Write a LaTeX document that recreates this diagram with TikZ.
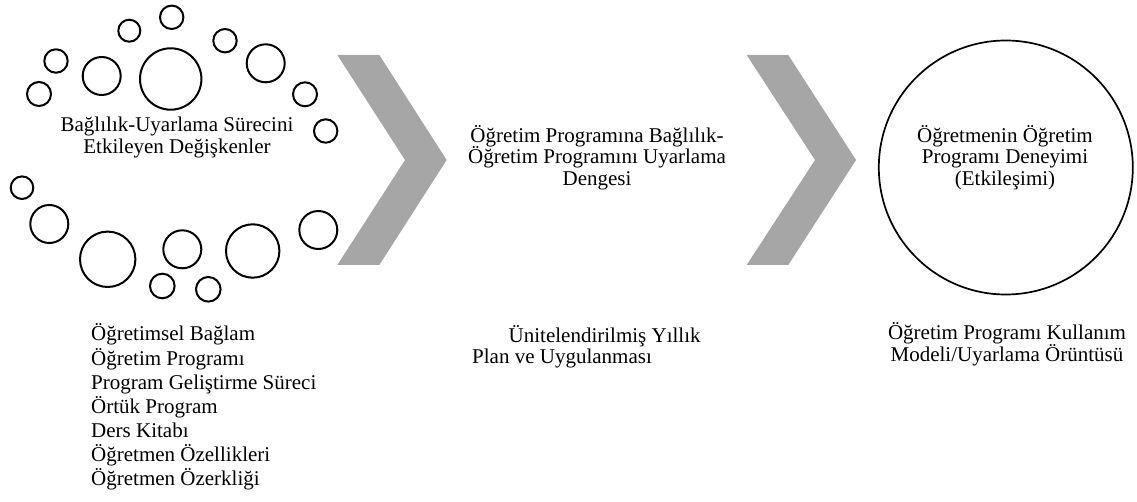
\documentclass[tikz,border=0pt]{standalone}
\usepackage{fontspec}
\setmainfont{Liberation Serif}
\definecolor{chev}{HTML}{A6A6A6}
\begin{document}
\begin{tikzpicture}[x=1pt,y=-1pt,
  bub/.style={draw=black,line width=2pt,circle,inner sep=0pt},
  bigc/.style={draw=black,line width=1.7pt,circle,inner sep=0pt,minimum size=254pt},
  lbl/.style={inner sep=0pt,align=center,font=\fontsize{21}{21.7}\selectfont},
  row/.style={inner sep=0pt,anchor=base west,font=\fontsize{21}{21.7}\selectfont},
  chevron/.style={fill=chev,draw=none}]
\useasboundingbox (0,0) rectangle (1137,502);
% bubbles
\foreach \nm/\cx/\cy/\r in {
  b1/171.7/17.3/11.7, b2/129.3/30.7/11, b3/56/61/11.7, b4/101.7/76/19,
  b5/170.7/79/30.7, b6/225/40.7/11.7, b7/265.7/63.3/19, b8/39/94/12,
  b9/305/94.3/12, b10/325.7/131/11.7, b11/22/187.7/11.3, b12/49.3/224/19,
  b13/107.7/259.3/27.7, b14/182.3/249.3/19, b15/252.7/251/26.7,
  b16/318.3/230/19, b17/162.3/286/12.3, b18/208.3/289.3/12.3}
  \node[bub,minimum size=2*\r] (\nm) at (\cx,\cy) {};
\node[lbl] (vars) at (177,137.5) {Bağlılık-Uyarlama Sürecini\\Etkileyen Değişkenler};
% chevrons
\fill[chevron] (337.3,55) -- (379.3,55) -- (446.7,160) -- (379.3,265) -- (337.3,265) -- (405,160) -- cycle;
\fill[chevron] (746.7,55) -- (788.3,55) -- (856,160) -- (788.3,265) -- (746.7,265) -- (815,160) -- cycle;
\node[lbl] (bal) at (597,157.5) {Öğretim Programına Bağlılık-\\Öğretim Programını Uyarlama\\Dengesi};
% big circle
\node[bigc] (exp) at (1005.8,167.5) {};
\node[lbl] (expt) at (1005,157.5) {Öğretmenin Öğretim\\Programı Deneyimi\\(Etkileşimi)};
\node[lbl] (model) at (1007,344) {Öğretim Programı Kullanım\\Modeli/Uyarlama Örüntüsü};
% bottom middle
\node[row] (plan1) at (508.5,342) {Ünitelendirilmiş Yıllık};
\node[row] (plan2) at (472,363) {Plan ve Uygulanması};
% list
\node[row] (l1) at (91,341) {Öğretimsel Bağlam};
\node[row] (l2) at (91,365) {Öğretim Programı};
\node[row] (l3) at (91,389) {Program Geliştirme Süreci};
\node[row] (l4) at (91,413) {Örtük Program};
\node[row] (l5) at (91,437) {Ders Kitabı};
\node[row] (l6) at (91,461) {Öğretmen Özellikleri};
\node[row] (l7) at (91,485) {Öğretmen Özerkliği};
\end{tikzpicture}
\end{document}
